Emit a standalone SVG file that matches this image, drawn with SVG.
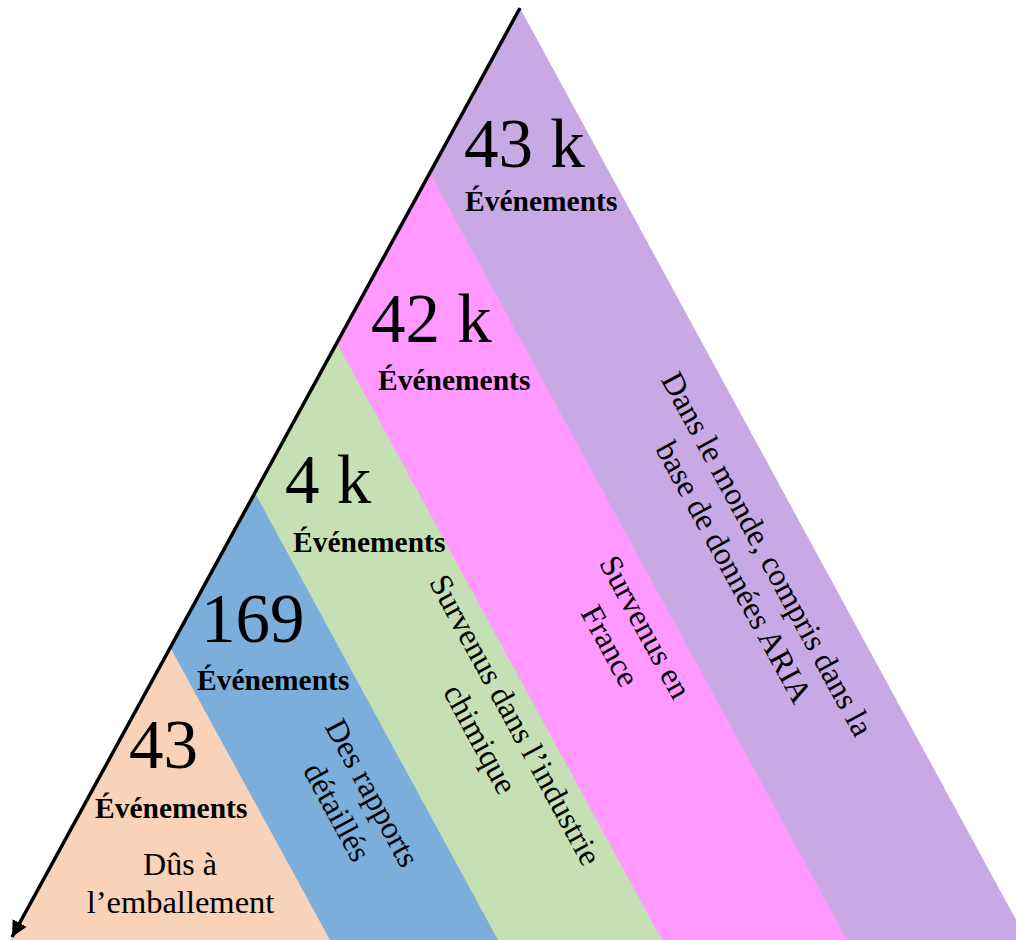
<svg xmlns="http://www.w3.org/2000/svg" width="1016" height="940" viewBox="0 0 1016 940">
<style>
  text { font-family: "Liberation Serif", "Times New Roman", serif; fill: #000; }
  .big { font-size: 69px; }
  .ev { font-size: 29.5px; font-weight: bold; }
  .lbl { font-size: 32px; text-anchor: middle; }
</style>
<defs>
  <marker id="arr" markerUnits="userSpaceOnUse" markerWidth="20" markerHeight="20" refX="16" refY="8" orient="auto">
    <path d="M0,0 L16,8 L0,16 z" fill="#000"/>
  </marker>
</defs>
<rect width="1016" height="940" fill="#fff"/>
<g id="bands">
  <polygon id="band-world" points="520,8 1027,940 10,940" fill="#C9A9E3"/>
  <polygon id="band-france" points="430,173 847,940 10,940" fill="#FF99FF"/>
  <polygon id="band-chimie" points="337,343 662,940 10,940" fill="#C5E0B4"/>
  <polygon id="band-rapports" points="255,493 498,940 10,940" fill="#7CAEDC"/>
  <polygon id="band-emballement" points="170,647 330,940 10,940" fill="#F9D3B9"/>
</g>
<g id="connectors">
  <line x1="520" y1="8" x2="12" y2="937" stroke="#000" stroke-width="3.5" marker-end="url(#arr)"/>
</g>
<g id="node-43k">
  <text class="big" x="464" y="167">43 k</text>
  <text class="ev" x="465" y="211">Événements</text>
</g>
<g id="node-42k">
  <text class="big" x="371" y="342">42 k</text>
  <text class="ev" x="378" y="390">Événements</text>
</g>
<g id="node-4k">
  <text class="big" x="285" y="503">4 k</text>
  <text class="ev" x="293" y="552">Événements</text>
</g>
<g id="node-169">
  <text class="big" x="201" y="642">169</text>
  <text class="ev" x="197" y="690">Événements</text>
</g>
<g id="node-43">
  <text class="big" x="129" y="768">43</text>
  <text class="ev" x="95" y="818">Événements</text>
  <text style="font-size:32px;text-anchor:middle" x="180" y="875">Dûs à</text>
  <text style="font-size:32.5px;text-anchor:middle" x="180.5" y="913">l’emballement</text>
</g>
<g id="label-world" transform="translate(758,559) rotate(61.5)">
  <text class="lbl" x="0" y="0">Dans le monde, compris dans la</text>
  <text class="lbl" x="0" y="38">base de données ARIA</text>
</g>
<g id="label-france" transform="translate(636,632) rotate(61.5)">
  <text class="lbl" x="0" y="0">Survenus en</text>
  <text class="lbl" x="0" y="40">France</text>
</g>
<g id="label-chimie" transform="translate(506,725) rotate(61.5)">
  <text class="lbl" x="0" y="0">Survenus dans l’industrie</text>
  <text class="lbl" x="0" y="40">chimique</text>
</g>
<g id="label-rapports" transform="translate(363,798) rotate(61.5)">
  <text class="lbl" x="0" y="0">Des rapports</text>
  <text class="lbl" x="0" y="40">détaillés</text>
</g>
</svg>
